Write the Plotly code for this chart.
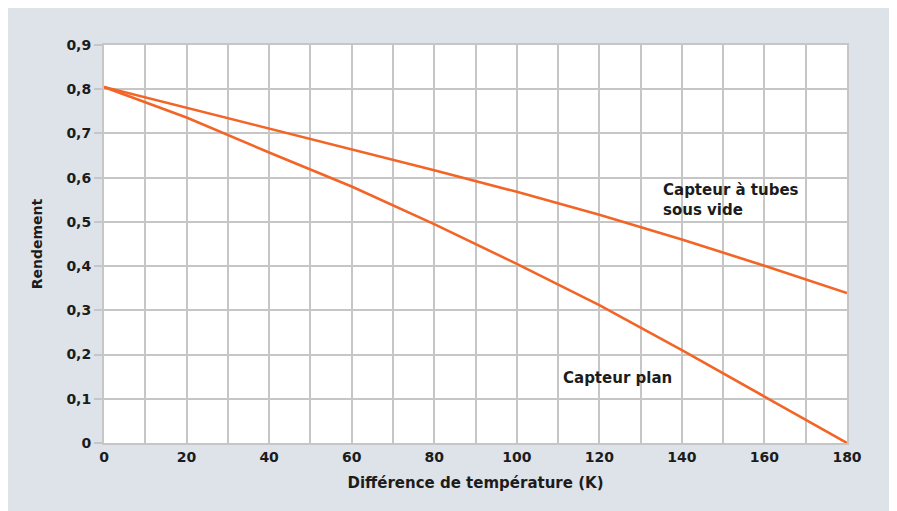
import plotly.graph_objects as go

# Data
temp_diff = [0, 20, 40, 60, 80, 100, 120, 140, 160, 180]
rend_tubes = [0.805, 0.758, 0.711, 0.664, 0.617, 0.568, 0.516, 0.460, 0.401, 0.339]
rend_plan = [0.805, 0.736, 0.657, 0.580, 0.495, 0.405, 0.312, 0.210, 0.105, 0.0]

y_tickvals = [0, 0.1, 0.2, 0.3, 0.4, 0.5, 0.6, 0.7, 0.8, 0.9]
y_ticktext = ["0", "0,1", "0,2", "0,3", "0,4", "0,5", "0,6", "0,7", "0,8", "0,9"]
x_tickvals = [0, 20, 40, 60, 80, 100, 120, 140, 160, 180]
x_ticktext = [str(v) for v in x_tickvals]

LINE = "#f26526"
GRID = "#c6c6c6"
TXT = "#1c1c1c"
BG = "#dee3e9"
FONT = "DejaVu Sans"

fig = go.Figure()
fig.add_trace(go.Scatter(x=temp_diff, y=rend_tubes, mode="lines",
                         line=dict(color=LINE, width=2.6), showlegend=False,
                         cliponaxis=False))
fig.add_trace(go.Scatter(x=temp_diff, y=rend_plan, mode="lines",
                         line=dict(color=LINE, width=2.6), showlegend=False,
                         cliponaxis=False))

fig.add_annotation(x=134.9, y=0.55, xref="x", yref="y",
                   text="Capteur à tubes<br>sous vide", showarrow=False,
                   xanchor="left", yanchor="middle", align="left",
                   font=dict(family=FONT, size=15, color=TXT, weight="bold"))
fig.add_annotation(x=110.7, y=0.146, xref="x", yref="y",
                   text="Capteur plan", showarrow=False,
                   xanchor="left", yanchor="middle", align="left",
                   font=dict(family=FONT, size=15, color=TXT, weight="bold"))

fig.update_layout(
    width=889, height=503, autosize=False,
    margin=dict(l=96, r=50, t=37, b=68),
    paper_bgcolor=BG, plot_bgcolor="white",
    font=dict(family=FONT, color=TXT),
)
fig.update_xaxes(
    range=[0, 180], tickmode="array", tickvals=x_tickvals, ticktext=x_ticktext,
    showgrid=True, gridcolor=GRID, gridwidth=2,
    minor=dict(dtick=10, tick0=0, showgrid=True, gridcolor=GRID, gridwidth=2, ticks=""),
    showline=True, linecolor=GRID, linewidth=2, mirror=True,
    ticks="", zeroline=False,
    tickfont=dict(family=FONT, size=14, color=TXT, weight="bold"),
    title=dict(text="Différence de température (K)", standoff=14,
               font=dict(family=FONT, size=15, color=TXT, weight="bold")),
    automargin=False,
)
fig.update_yaxes(
    range=[0, 0.9], tickmode="array", tickvals=y_tickvals, ticktext=y_ticktext,
    showgrid=True, gridcolor=GRID, gridwidth=2,
    showline=True, linecolor=GRID, linewidth=2, mirror=True,
    ticks="outside", ticklen=8, tickcolor=GRID, tickwidth=1.5, zeroline=False,
    tickfont=dict(family=FONT, size=14, color=TXT, weight="bold"),
    title=dict(text="Rendement", standoff=20,
               font=dict(family=FONT, size=14, color=TXT, weight="bold")),
    automargin=False,
)

fig.write_html("out.html")
